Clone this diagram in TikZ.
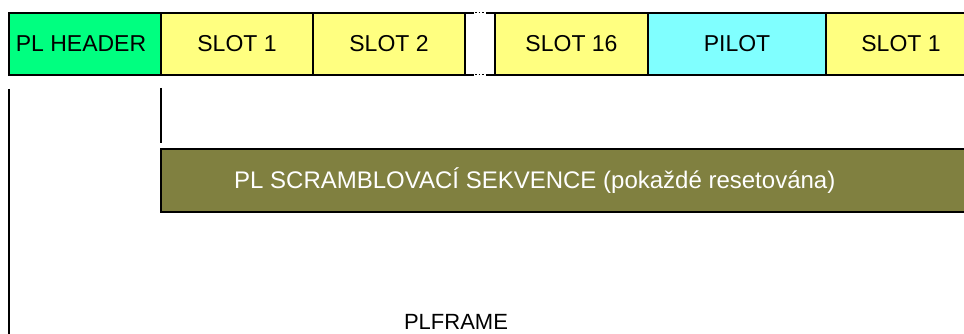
\documentclass[tikz,border=0pt]{standalone}
\usepackage{fontspec}
\setmainfont{Liberation Sans}
\usetikzlibrary{positioning}
\definecolor{hdrgreen}{HTML}{00FF80}
\definecolor{slotyellow}{HTML}{FFFF80}
\definecolor{pilotcyan}{HTML}{80FFFF}
\definecolor{scrolive}{HTML}{808040}
\tikzset{
    field/.style={rectangle,draw,line width=1.5pt,outer sep=0pt,inner sep=0pt,
        minimum height=62pt,font=\fontsize{23}{26}\selectfont},
    slotbox/.style={field,fill=slotyellow,minimum width=152pt},
    marker/.style={line width=1.5pt}
}

\begin{document}
\begin{tikzpicture}[x=1pt,y=-1pt]
    \clip (0,0) rectangle (964,334);

    % PL frame fields
    \node[field,fill=hdrgreen,minimum width=152pt,anchor=north west] (hdr) at (9,13) {PL HEADER\hspace*{8pt}};
    \node[slotbox,right=0pt of hdr] (s1) {SLOT 1};
    \node[slotbox,right=0pt of s1] (s2) {SLOT 2};
    \node[field,draw=none,minimum width=30pt,right=0pt of s2] (gap) {};
    \node[slotbox,minimum width=153pt,right=0pt of gap] (s16) {SLOT 16};
    \node[field,fill=pilotcyan,minimum width=178pt,right=0pt of s16] (pilot) {PILOT};
    \node[slotbox,minimum width=150pt,right=0pt of pilot] (s1b) {SLOT 1};

    % broken edges of the gap
    \draw[marker] (gap.north west) -- ++(9,0) (gap.north east) -- ++(-9,0);
    \draw[marker] (gap.south west) -- ++(9,0) (gap.south east) -- ++(-9,0);
    \draw[line width=1pt,dash pattern=on 1.5pt off 2pt] (gap.north west) ++(10,0) -- ++(10,0);
    \draw[line width=1pt,dash pattern=on 1.5pt off 2pt] (gap.south west) ++(10,0) -- ++(10,0);

    % scrambling sequence
    \node[field,fill=scrolive,minimum width=820pt,minimum height=63pt,anchor=north west] (bar) at (161,149) {};
    \node[text=white,inner sep=0pt,font=\fontsize{24}{26}\selectfont,right=73pt of bar.west] (scr)
        {PL SCRAMBLOVACÍ SEKVENCE (pokaždé resetována)};

    % frame markers
    \coordinate (frmend) at (9,334);
    \draw[marker] ([yshift=-14pt]hdr.south west) -- (frmend);
    \draw[marker] ([yshift=-13pt]s1.south west) -- ([yshift=6pt]bar.north west);
    \node[font=\fontsize{22}{24}\selectfont] (plf) at (456,322) {PLFRAME};
\end{tikzpicture}
\end{document}
